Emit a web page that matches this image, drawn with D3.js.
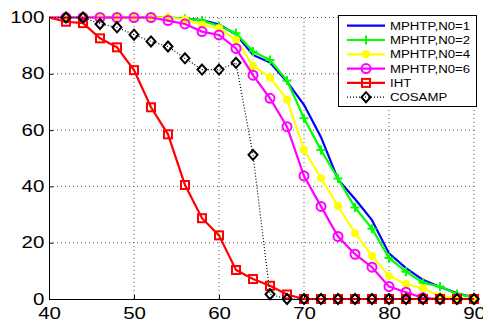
<!DOCTYPE html>
<html>
<head>
<meta charset="utf-8">
<script src="https://cdn.jsdelivr.net/npm/d3@7"></script>
<style>
  body { margin: 0; background: #fff; }
  svg { display: block; }
  text { font-family: "Liberation Sans", Arial, sans-serif; fill: #000; }
</style>
</head>
<body>
<svg id="chart" width="483" height="325"></svg>
<script>
const xValues = [40, 42, 44, 46, 48, 50, 52, 54, 56, 58, 60, 62, 64, 66, 68, 70, 72, 74, 76, 78, 80, 82, 84, 86, 88, 90];

const mphtp1 = [100, 100, 100, 100, 100, 100, 100, 100, 99.6, 99.1, 97.5, 94, 86.7, 84, 77.2, 69, 57.5, 42.5, 35.5, 28, 16.2, 11, 6.8, 4.3, 2, 0.6];
const mphtp2 = [100, 100, 100, 100, 100, 100, 100, 100, 99.6, 98.9, 97, 94.4, 87.9, 84.9, 77.6, 64.2, 52.9, 42.8, 32.5, 25, 14.6, 9.7, 5.8, 4.4, 1.8, 0.6];
const mphtp4 = [100, 100, 100, 100, 100, 100, 100, 100, 99.3, 97.4, 96.2, 92.1, 82.9, 78.7, 70.9, 53, 42.9, 33, 23.4, 15.3, 8.2, 5.3, 3.8, 1, 0.4, 0];
const mphtp6 = [100, 100, 100, 100, 100, 100, 100, 98.9, 97.7, 95, 93.8, 89, 79.5, 71.3, 61.2, 43.7, 32.9, 22.2, 15.9, 11.3, 4.4, 2.4, 0.4, 0, 0, 0];
const iht = [100, 98.5, 98, 92.6, 89.4, 81.3, 68.1, 58.5, 40.5, 28.7, 22.6, 10.3, 7.1, 4.7, 1.6, 0, 0, 0, 0, 0, 0, 0, 0, 0, 0, 0];
const cosamp = [100, 100, 100, 97.7, 96.5, 93.9, 91.5, 89.7, 85.5, 81.5, 81.5, 83.9, 51.2, 1.7, 0, 0, 0, 0, 0, 0, 0, 0, 0, 0, 0, 0];

const seriesNames = ["MPHTP,N0=1", "MPHTP,N0=2", "MPHTP,N0=4", "MPHTP,N0=6", "IHT", "COSAMP"];
const xTicks = [40, 50, 60, 70, 80, 90];
const yTicks = [0, 20, 40, 60, 80, 100];

// styles per series (drawn in this order, last on top)
const styles = [
  { color: "#0000ff", marker: "none", dash: null, width: 2.2 },
  { color: "#00ff00", marker: "plus", dash: null, width: 2.2 },
  { color: "#ffff00", marker: "dot", dash: null, width: 2.2 },
  { color: "#ff00ff", marker: "circle", dash: null, width: 2.2 },
  { color: "#ff0000", marker: "square", dash: null, width: 2.2 },
  { color: "#000000", marker: "diamond", dash: "1,2", width: 1.2 }
];
const allSeries = [mphtp1, mphtp2, mphtp4, mphtp6, iht, cosamp];

const svg = d3.select("#chart");
const x = d3.scaleLinear().domain([40, 90]).range([49, 474]);
const y = d3.scaleLinear().domain([0, 100]).range([299, 17.5]);
const stretch = 1.28; // tick labels look horizontally stretched

// dotted grid
const grid = svg.append("g");
grid.selectAll("line.gx").data(xTicks.filter(d => d > 40)).join("line")
  .attr("x1", d => x(d)).attr("x2", d => x(d))
  .attr("y1", y(0)).attr("y2", y(100))
  .attr("stroke", "#555").attr("stroke-width", 1).attr("stroke-dasharray", "1,3");
grid.selectAll("line.gy").data(yTicks.filter(d => d > 0)).join("line")
  .attr("x1", x(40)).attr("x2", x(90))
  .attr("y1", d => y(d)).attr("y2", d => y(d))
  .attr("stroke", "#555").attr("stroke-width", 1).attr("stroke-dasharray", "1,3");

// axes
const xAxis = svg.append("g").attr("transform", `translate(0,${y(0)})`)
  .call(d3.axisBottom(x).tickValues(xTicks).tickSizeInner(-4).tickSizeOuter(0).tickPadding(9));
const yAxis = svg.append("g").attr("transform", `translate(${x(40)},0)`)
  .call(d3.axisLeft(y).tickValues(yTicks).tickSizeInner(-4).tickSizeOuter(0).tickPadding(5));
[xAxis, yAxis].forEach(a => {
  a.select(".domain").attr("stroke", "#000").attr("stroke-width", 1);
  a.selectAll(".tick line").attr("stroke", "#000");
  a.selectAll(".tick text").attr("font-size", 16).attr("fill", "#000")
    .style("font-family", "'Liberation Sans', Arial, sans-serif");
});
xAxis.selectAll(".tick text").attr("transform", `scale(${stretch},1)`);
yAxis.selectAll(".tick text").attr("x", -4.7 / stretch).attr("transform", `scale(${stretch},1)`);

// marker drawing
function drawMarker(g, type, color) {
  if (type === "plus") {
    g.append("path").attr("d", "M-4.5,0H4.5M0,-4.5V4.5").attr("stroke", color).attr("stroke-width", 2).attr("fill", "none");
  } else if (type === "dot") {
    g.append("circle").attr("r", 4).attr("fill", color);
  } else if (type === "circle") {
    g.append("circle").attr("r", 4.5).attr("fill", "none").attr("stroke", color).attr("stroke-width", 2);
  } else if (type === "square") {
    g.append("rect").attr("x", -4).attr("y", -4).attr("width", 8).attr("height", 8)
      .attr("fill", "none").attr("stroke", color).attr("stroke-width", 2);
  } else if (type === "diamond") {
    g.append("path").attr("d", "M0,-5L4.5,0L0,5L-4.5,0Z").attr("fill", "none").attr("stroke", color).attr("stroke-width", 2);
  }
}

const line = d3.line().x(d => x(d[0])).y(d => y(d[1]));

allSeries.forEach((vals, i) => {
  const st = styles[i];
  const pts = xValues.map((xv, j) => [xv, vals[j]]);
  const g = svg.append("g");
  g.append("path").datum(pts).attr("d", line)
    .attr("fill", "none").attr("stroke", st.color).attr("stroke-width", st.width)
    .attr("stroke-dasharray", st.dash);
  if (st.marker !== "none") {
    g.selectAll("g.m").data(pts.filter(p => p[0] > 40)).join("g")
      .attr("transform", d => `translate(${x(d[0])},${y(d[1])})`)
      .each(function () { drawMarker(d3.select(this), st.marker, st.color); });
  }
});

// legend
const legend = svg.append("g");
legend.append("rect").attr("x", 338.5).attr("y", 15.5).attr("width", 138).attr("height", 91)
  .attr("fill", "#fff").attr("stroke", "#000").attr("stroke-width", 1);
seriesNames.forEach((name, i) => {
  const st = styles[i];
  const ly = 25.7 + i * 14.3;
  legend.append("line").attr("x1", 347).attr("x2", 385).attr("y1", ly).attr("y2", ly)
    .attr("stroke", st.color).attr("stroke-width", st.width).attr("stroke-dasharray", st.dash);
  const mg = legend.append("g").attr("transform", `translate(366,${ly})`);
  if (st.marker !== "none") drawMarker(mg, st.marker, st.color);
  legend.append("text").attr("transform", `translate(390,${ly}) scale(1.15,1)`)
    .attr("dy", "0.36em").attr("font-size", 11.5).text(name);
});
</script>
</body>
</html>
